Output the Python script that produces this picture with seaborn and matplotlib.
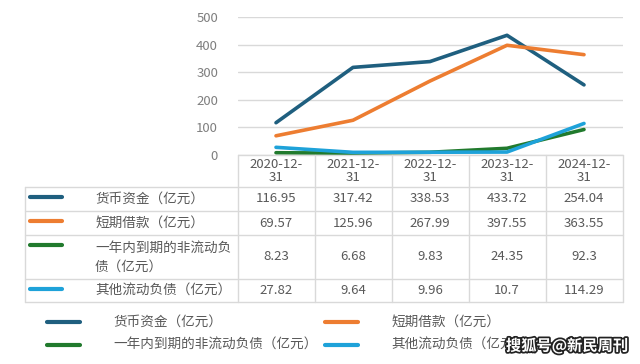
import pandas as pd
import matplotlib.pyplot as plt
import seaborn as sns
import matplotlib.patheffects as pe

# data
dates = ['2020-12-31', '2021-12-31', '2022-12-31', '2023-12-31', '2024-12-31']
date_labels = ['2020-12-\n31', '2021-12-\n31', '2022-12-\n31', '2023-12-\n31', '2024-12-\n31']
cash = [116.95, 317.42, 338.53, 433.72, 254.04]
short_loans = [69.57, 125.96, 267.99, 397.55, 363.55]
noncurrent_due = [8.23, 6.68, 9.83, 24.35, 92.3]
other_current = [27.82, 9.64, 9.96, 10.7, 114.29]
value_text = [
    ['116.95', '317.42', '338.53', '433.72', '254.04'],
    ['69.57', '125.96', '267.99', '397.55', '363.55'],
    ['8.23', '6.68', '9.83', '24.35', '92.3'],
    ['27.82', '9.64', '9.96', '10.7', '114.29'],
]
series_names = ['货币资金（亿元）', '短期借款（亿元）', '一年内到期的非流动负债（亿元）', '其他流动负债（亿元）']
table_names = ['货币资金（亿元）', '短期借款（亿元）', '一年内到期的非流动负\n债（亿元）', '其他流动负债（亿元）']
colors = ['#1f5f7f', '#ed7d31', '#217a2d', '#1ea2d9']

sns.set_theme(style='white')
plt.rcParams['font.family'] = ['Noto Sans CJK SC', 'DejaVu Sans']

df = pd.DataFrame({'date': dates * 4,
                   'value': cash + short_loans + noncurrent_due + other_current,
                   'series': [s for s in series_names for _ in dates]})

W, H = 640, 364
fig = plt.figure(figsize=(6.4, 3.64), dpi=100)
ax_l, ax_r, ax_t, ax_b = 237.5, 622.5, 17, 155
ax = fig.add_axes([ax_l / W, 1 - ax_b / H, (ax_r - ax_l) / W, (ax_b - ax_t) / H])

sns.lineplot(data=df, x='date', y='value', hue='series', palette=colors,
             linewidth=2.6, legend=False, ax=ax, sort=False)
ax.set_xlim(-0.5, 4.5)
ax.set_ylim(0, 500)
ax.set_yticks(range(0, 501, 100))
ax.set_xticks([])
ax.set_xlabel('')
ax.set_ylabel('')
ax.yaxis.grid(True, color='#d9d9d9', linewidth=1)
ax.tick_params(axis='y', length=0, pad=14, labelsize=9.5, labelcolor='#7f7f7f')
for s in ax.spines.values():
    s.set_visible(False)

grid_c = '#d9d9d9'
txt_c = '#595959'


def fx(px):
    return px / W


def fy(py):
    return 1 - py / H


col_edges = [ax_l + i * (ax_r - ax_l) / 5 for i in range(6)]
col_mid = [(col_edges[i] + col_edges[i + 1]) / 2 for i in range(5)]
row_edges = [155, 187, 211, 235, 279, 302]
tbl_left = 25

# table grid lines
for i, y in enumerate(row_edges):
    x0 = col_edges[0] if i == 0 else tbl_left
    fig.add_artist(plt.Line2D([fx(x0), fx(ax_r)], [fy(y), fy(y)], color=grid_c, lw=1))
for x in col_edges:
    fig.add_artist(plt.Line2D([fx(x), fx(x)], [fy(155), fy(302)], color=grid_c, lw=1))
fig.add_artist(plt.Line2D([fx(tbl_left), fx(tbl_left)], [fy(187), fy(302)], color=grid_c, lw=1))

# header
for xm, lab in zip(col_mid, date_labels):
    fig.text(fx(xm), fy(171), lab, ha='center', va='center', fontsize=9.5,
             color=txt_c, linespacing=1.05)

# rows
for r in range(4):
    yc = (row_edges[r + 1] + row_edges[r + 2]) / 2
    fig.add_artist(plt.Line2D([fx(30), fx(62)], [fy(row_edges[r + 1] + 10), fy(row_edges[r + 1] + 10)],
                              color=colors[r], lw=3, solid_capstyle='round'))
    if r == 2:
        fig.text(fx(95), fy(yc), table_names[r], ha='left', va='center', fontsize=9.8,
                 color=txt_c, linespacing=1.4)
    else:
        fig.text(fx(95), fy(yc), table_names[r], ha='left', va='center', fontsize=9.8, color=txt_c)
    for xm, v in zip(col_mid, value_text[r]):
        fig.text(fx(xm), fy(yc), v, ha='center', va='center', fontsize=9.5, color=txt_c)

# legend below the table
leg_pos = [(47, 322), (325, 322), (47, 345), (325, 345)]
for (lx, ly), c, name in zip(leg_pos, colors, series_names):
    fig.add_artist(plt.Line2D([fx(lx), fx(lx + 33)], [fy(ly), fy(ly)], color=c, lw=3,
                              solid_capstyle='round'))
    fig.text(fx(lx + 66), fy(ly), name, ha='left', va='center', fontsize=9.8, color=txt_c)

# watermark
fig.text(fx(628), fy(346), '搜狐号@新民周刊', ha='right', va='center', fontsize=11,
         color='white', fontweight='bold',
         path_effects=[pe.withStroke(linewidth=2.5, foreground='#222222')])

fig.savefig('out.png', dpi=100, facecolor='white')
